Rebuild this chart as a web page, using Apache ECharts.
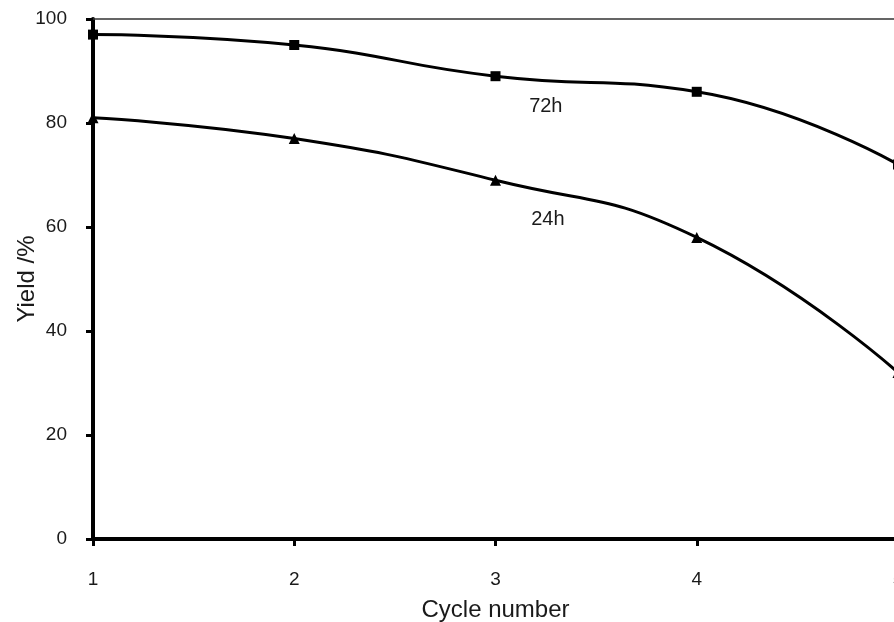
<!DOCTYPE html>
<html>
<head>
<meta charset="utf-8">
<script src="https://cdn.jsdelivr.net/npm/echarts@6/dist/echarts.min.js"></script>
<style>
html,body{margin:0;padding:0;background:#fff;}
#chart{width:894px;height:622px;}
</style>
</head>
<body>
<div id="chart"></div>
<script>
var cycles = [1, 2, 3, 4, 5];
var yield72h = [97, 95, 89, 86, 72];
var yield24h = [81, 77, 69, 58, 32];
var yTicks = [0, 20, 40, 60, 80, 100];

function pairs(xs, ys) { return xs.map(function (x, i) { return [x, ys[i]]; }); }

var chart = echarts.init(document.getElementById('chart'));
var font = 'Liberation Sans, Arial, sans-serif';
chart.setOption({
  animation: false,
  backgroundColor: '#fff',
  grid: { left: 93, right: -4, top: 19, bottom: 83, containLabel: false, outerBoundsMode: 'none' },
  xAxis: [{
    type: 'value', min: 1, max: 5, interval: 1,
    name: 'Cycle number', nameLocation: 'middle', nameGap: 59, nameMoveOverlap: false,
    nameTextStyle: { fontFamily: font, fontSize: 24, color: '#1a1a1a' },
    axisLine: { show: true, onZero: false, lineStyle: { color: '#000', width: 4 } },
    axisTick: { show: true, length: 7, lineStyle: { color: '#000', width: 3 } },
    axisLabel: { margin: 31, showMaxLabel: true, showMinLabel: true, hideOverlap: false, fontFamily: font, fontSize: 19, color: '#1a1a1a' },
    splitLine: { show: false }
  }, {
    type: 'value', min: 1, max: 5, position: 'top',
    axisLine: { show: true, onZero: false, lineStyle: { color: '#333', width: 1.5 } },
    axisTick: { show: false }, axisLabel: { show: false }, splitLine: { show: false }
  }],
  yAxis: {
    type: 'value', min: yTicks[0], max: yTicks[yTicks.length - 1], interval: 20,
    name: 'Yield /%', nameLocation: 'middle', nameGap: 54, nameRotate: 90, nameMoveOverlap: false,
    nameTextStyle: { fontFamily: font, fontSize: 24, color: '#1a1a1a' },
    axisLine: { show: true, onZero: false, lineStyle: { color: '#000', width: 4 } },
    axisTick: { show: true, length: 7, lineStyle: { color: '#000', width: 3 } },
    axisLabel: { margin: 26, fontFamily: font, fontSize: 19, color: '#1a1a1a' },
    splitLine: { show: false }
  },
  series: [{
    name: '72h', type: 'line', smooth: 0.5,
    data: pairs(cycles, yield72h),
    symbol: 'rect', symbolSize: 10,
    itemStyle: { color: '#000' },
    lineStyle: { color: '#000', width: 3 },
    markPoint: {
      symbol: 'circle', symbolSize: 0,
      label: { show: true, formatter: '72h', fontFamily: font, fontSize: 20, color: '#1a1a1a', position: 'inside' },
      data: [{ coord: [3.25, 83.1] }]
    }
  }, {
    name: '24h', type: 'line', smooth: 0.5,
    data: pairs(cycles, yield24h),
    symbol: 'triangle', symbolSize: 11,
    itemStyle: { color: '#000' },
    lineStyle: { color: '#000', width: 3 },
    markPoint: {
      symbol: 'circle', symbolSize: 0,
      label: { show: true, formatter: '24h', fontFamily: font, fontSize: 20, color: '#1a1a1a', position: 'inside' },
      data: [{ coord: [3.26, 61.5] }]
    }
  }]
});
</script>
</body>
</html>
